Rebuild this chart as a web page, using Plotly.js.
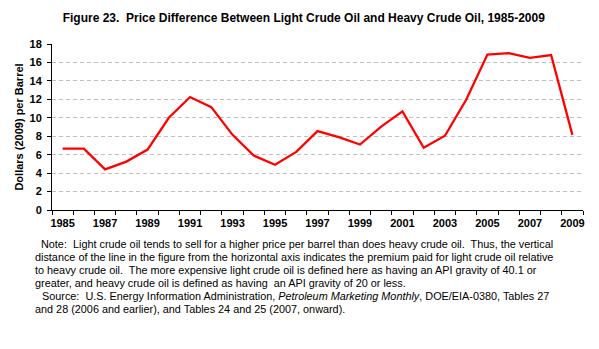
<!DOCTYPE html>
<html>
<head>
<meta charset="utf-8">
<script src="https://cdn.plot.ly/plotly-3.0.1.min.js"></script>
<style>
  html, body { margin: 0; padding: 0; background: #ffffff; }
  #chart { width: 599px; height: 349px; }
</style>
</head>
<body>
<div id="chart"></div>
<script>
// ---- Data ----
var years = [1985, 1986, 1987, 1988, 1989, 1990, 1991, 1992, 1993, 1994, 1995, 1996,
             1997, 1998, 1999, 2000, 2001, 2002, 2003, 2004, 2005, 2006, 2007, 2008, 2009];
var priceDifference = [6.65, 6.65, 4.4, 5.25, 6.55, 10.0, 12.25, 11.15, 8.15, 5.9, 4.9, 6.3,
                       8.55, 7.9, 7.1, 9.05, 10.7, 6.75, 8.05, 11.95, 16.85, 17.0, 16.5, 16.8, 8.15];
var labelYears = [1985, 1987, 1989, 1991, 1993, 1995, 1997, 1999, 2001, 2003, 2005, 2007, 2009];
var yTicks = [0, 2, 4, 6, 8, 10, 12, 14, 16, 18];

var titleText = "Figure 23.\u00a0 Price Difference Between Light Crude Oil and Heavy Crude Oil, 1985-2009";
var yTitleText = "Dollars (2009) per Barrel";
var noteLines = [
  "Note:\u00a0 Light crude oil tends to sell for a higher price per barrel than does heavy crude oil.\u00a0 Thus, the vertical",
  "distance of the line in the figure from the horizontal axis indicates the premium paid for light crude oil relative",
  "to heavy crude oil.\u00a0 The more expensive light crude oil is defined here as having an API gravity of 40.1 or",
  "greater, and heavy crude oil is defined as having\u00a0 an API gravity of 20 or less.",
  "Source:\u00a0 U.S. Energy Information Administration, <i>Petroleum Marketing Monthly</i>, DOE/EIA-0380, Tables 27",
  "and 28 (2006 and earlier), and Tables 24 and 25 (2007, onward)."
];

// ---- Layout geometry ----
var W = 599, H = 349;
var M = { l: 52, r: 16, t: 44, b: 139 };
var plotW = W - M.l - M.r, plotH = H - M.t - M.b;
function px2paperX(px) { return (px - M.l) / plotW; }
function py2paperY(py) { return (H - M.b - py) / plotH; }

var FONT = "Liberation Sans, Arial, sans-serif";
var noteX = [39, 33, 33, 33, 40, 33];
var noteY = [243.5, 256.6, 269.7, 282.8, 295.9, 309.0];

var annotations = noteLines.map(function (t, i) {
  return {
    text: t, xref: "paper", yref: "paper",
    x: px2paperX(noteX[i]), y: py2paperY(noteY[i]),
    xanchor: "left", yanchor: "middle", showarrow: false,
    font: { family: FONT, size: 10.85, color: "#000" }
  };
});

var trace = {
  x: years, y: priceDifference, type: "scatter", mode: "lines",
  line: { color: "#ff0000", width: 2.3 },
  hoverinfo: "x+y"
};

var layout = {
  width: W, height: H,
  margin: M,
  paper_bgcolor: "#ffffff", plot_bgcolor: "#ffffff",
  showlegend: false,
  title: {
    text: "<b>" + titleText + "</b>",
    x: 284 / W, xanchor: "center", xref: "paper",
    y: 1 - 17.5 / H, yanchor: "middle", yref: "container",
    font: { family: FONT, size: 12, color: "#000" }
  },
  xaxis: {
    range: [years[0] - 0.5, years[years.length - 1] + 0.5],
    tickmode: "array",
    tickvals: labelYears,
    ticktext: labelYears.map(function (y) { return "<b>" + y + "</b>"; }),
    ticks: "",
    ticklabelstandoff: 3,
    tickfont: { family: FONT, size: 11, color: "#000" },
    showline: true, linecolor: "#000", linewidth: 1,
    showgrid: false, zeroline: false,
    minor: { tick0: years[0] - 0.5, dtick: 1, ticks: "outside", ticklen: 4, tickcolor: "#000", tickwidth: 1, showgrid: false },
    fixedrange: true
  },
  yaxis: {
    range: [0, 18],
    tickmode: "array",
    tickvals: yTicks,
    ticktext: yTicks.map(function (v) { return "<b>" + v + "</b>"; }),
    ticks: "outside", ticklen: 4, tickcolor: "#000", tickwidth: 1,
    ticklabelstandoff: 3,
    tickfont: { family: FONT, size: 11, color: "#000" },
    showline: true, linecolor: "#000", linewidth: 1,
    showgrid: true, gridcolor: "#c0c0c0", gridwidth: 1, griddash: "4px,3px",
    zeroline: false,
    title: { text: "<b>" + yTitleText + "</b>", standoff: 3, font: { family: FONT, size: 11, color: "#000" } },
    fixedrange: true
  },
  annotations: annotations
};

Plotly.newPlot("chart", [trace], layout, { displayModeBar: false, staticPlot: true });
</script>
</body>
</html>
